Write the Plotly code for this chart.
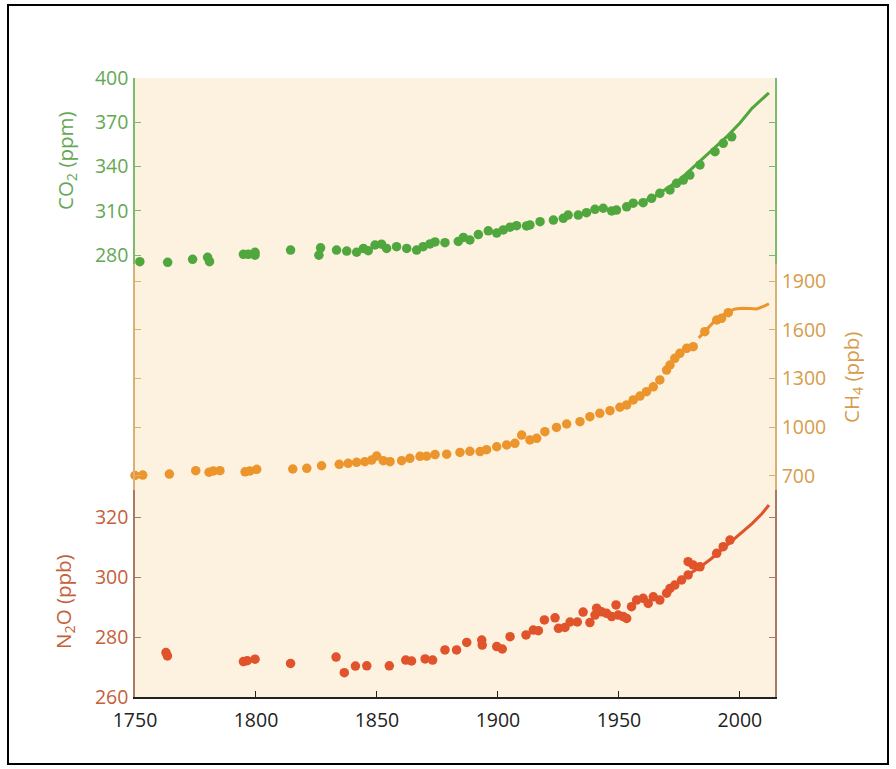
import plotly.graph_objects as go

# ---------------- data ----------------
co2_years = [1752, 1763.5, 1773.8, 1780, 1780.8, 1794.8, 1796.8, 1799.6, 1799.6, 1814.3,
             1826.7, 1826.0, 1833.3, 1837.5, 1841.6, 1844.4, 1846.4, 1849.2, 1851.9, 1854,
             1858.1, 1862.3, 1866.4, 1869.1, 1871.9, 1874, 1878.1, 1883.6, 1885.7, 1888.4,
             1891.9, 1896, 1899.5, 1902.2, 1905, 1907.7, 1911.8, 1913.2, 1917.4, 1922.9,
             1927, 1929, 1933.2, 1936.6, 1940.1, 1943.5, 1947, 1949, 1953.2, 1955.9,
             1960, 1963.5, 1966.9, 1971.1, 1973.8, 1976.6, 1979.3, 1983.5, 1989.7, 1993.1,
             1996.6]
co2_values = [275.6, 275.2, 277.2, 278.6, 275.6, 280.6, 280.6, 282.0, 280.0, 283.5,
              285.0, 280.0, 283.5, 282.8, 282.0, 284.6, 283.1, 286.9, 287.5, 284.6,
              285.8, 284.6, 283.5, 285.8, 287.6, 289.0, 288.5, 289.3, 292.0, 290.3,
              294.0, 296.5, 295.0, 297.1, 299.0, 300.0, 299.8, 300.5, 302.7, 303.8,
              305.0, 307.2, 307.2, 308.8, 311.1, 311.8, 310.0, 310.6, 312.8, 315.2,
              315.6, 318.5, 321.9, 324.2, 328.7, 330.9, 334.3, 341.1, 350.1, 355.8,
              360.2]
co2_line_years = [1958, 1965, 1970, 1975, 1980, 1985, 1990, 1995, 2000, 2005, 2012]
co2_line_values = [315, 320, 325.5, 331, 338.5, 346, 354, 361, 369.5, 379.5, 390]

ch4_years = [1750, 1753.2, 1764.2, 1775.1, 1780.6, 1782.4, 1785.1, 1795.5, 1797.5, 1800.3,
             1815.2, 1821, 1827.1, 1834.4, 1838.1, 1841.6, 1845, 1847.8, 1849.9, 1852.6,
             1855.4, 1860.2, 1863.6, 1867.8, 1870.5, 1874, 1878.8, 1884.3, 1888.4, 1892.6,
             1895.3, 1899.5, 1903.6, 1907, 1909.8, 1913.2, 1916, 1919.4, 1924.2, 1928.4,
             1933.9, 1938, 1942.1, 1946.3, 1950.4, 1953.2, 1955.9, 1958.7, 1961.4, 1964.2,
             1966.9, 1969.7, 1971.1, 1973.1, 1975.2, 1978, 1980.7, 1985.5, 1990.4, 1992.4,
             1995.2]
ch4_values = [703, 706, 712, 733, 723, 731, 733, 726, 731, 741,
              743, 747, 763, 772, 778, 784, 788, 798, 823, 794,
              788, 794, 809, 821, 822, 832, 834, 845, 852, 850,
              862, 880, 891, 901, 952, 922, 932, 973, 999, 1020,
              1034, 1065, 1086, 1102, 1123, 1137, 1168, 1192, 1219, 1249,
              1291, 1352, 1383, 1424, 1455, 1486, 1496, 1588, 1660, 1670,
              1705]
ch4_line_years = [1983, 1986, 1989, 1992, 1995, 1998, 2001, 2004, 2007, 2010, 2012]
ch4_line_values = [1550, 1600, 1645, 1680, 1710, 1728, 1732, 1730, 1728, 1745, 1760]

n2o_years = [1762.8, 1763.4, 1794.8, 1796.4, 1799.6, 1814.3, 1833.1, 1836.5, 1841.1, 1845.8,
             1855.1, 1861.9, 1864.3, 1869.9, 1873, 1878.1, 1882.9, 1887.1, 1893.3, 1893.5,
             1899.5, 1901.8, 1905, 1911.6, 1914.6, 1916.7, 1919.2, 1923.6, 1925, 1927.7,
             1929.8, 1932.8, 1935.2, 1938, 1940.1, 1940.8, 1942.8, 1944.9, 1947, 1948.8,
             1949.7, 1951.8, 1953.2, 1955.2, 1957.3, 1960, 1962.1, 1964.2, 1966.9, 1969.7,
             1971.1, 1973.1, 1975.9, 1978.6, 1978.6, 1980.7, 1983.5, 1990.4, 1993.1, 1995.9]
n2o_values = [274.8, 273.7, 271.8, 272.1, 272.6, 271.2, 273.3, 268.1, 270.3, 270.4,
              270.4, 272.3, 272.0, 272.7, 272.3, 275.7, 275.7, 278.2, 279.0, 277.3,
              276.8, 276.0, 280.1, 280.7, 282.3, 282.1, 285.7, 286.4, 282.9, 283.2,
              285.0, 285.0, 288.3, 284.8, 287.3, 289.6, 288.4, 287.9, 286.8, 290.7,
              287.3, 286.8, 286.2, 290.1, 292.3, 292.9, 291.2, 293.4, 292.3, 294.6,
              296.2, 297.3, 299.0, 300.7, 305.1, 304.0, 303.4, 307.9, 310.1, 312.3]
n2o_line_years = [1978, 1983, 1988, 1993, 1997, 2000, 2005, 2009, 2012]
n2o_line_values = [300.5, 303, 306, 309.5, 312.3, 314.2, 317.8, 321, 324]

x_ticks = [1750, 1800, 1850, 1900, 1950, 2000]
co2_ticks = [280, 310, 340, 370, 400]
ch4_ticks = [700, 1000, 1300, 1600, 1900]
n2o_ticks = [260, 280, 300, 320]

# ---------------- styles ----------------
GREEN = "#4fa73e"
GREEN_TXT = "#64a853"
GREEN_LINE = "#7dbb6c"
ORANGE = "#ec952c"
ORANGE_TXT = "#d69c4a"
ORANGE_LINE = "#d9b273"
RED = "#e0532b"
RED_TXT = "#c5603b"
RED_LINE = "#a87a62"
BG = "#fdf2df"
FONT = "Open Sans"
TS = 19.5

fig = go.Figure()
mk = 9.5
fig.add_trace(go.Scatter(x=co2_line_years, y=co2_line_values, mode="lines",
                         line=dict(color=GREEN, width=3), xaxis="x", yaxis="y"))
fig.add_trace(go.Scatter(x=co2_years, y=co2_values, mode="markers", cliponaxis=False,
                         marker=dict(color=GREEN, size=mk), xaxis="x", yaxis="y"))
fig.add_trace(go.Scatter(x=ch4_line_years, y=ch4_line_values, mode="lines",
                         line=dict(color=ORANGE, width=3), xaxis="x", yaxis="y2"))
fig.add_trace(go.Scatter(x=ch4_years, y=ch4_values, mode="markers", cliponaxis=False,
                         marker=dict(color=ORANGE, size=mk), xaxis="x", yaxis="y2"))
fig.add_trace(go.Scatter(x=n2o_line_years, y=n2o_line_values, mode="lines",
                         line=dict(color=RED, width=3), xaxis="x", yaxis="y3"))
fig.add_trace(go.Scatter(x=n2o_years, y=n2o_values, mode="markers", cliponaxis=False,
                         marker=dict(color=RED, size=mk), xaxis="x", yaxis="y3"))

W, H = 896, 769
L, R, T, B = 135, 121, 78, 72
ph = H - T - B
def py(pix):
    return (H - B - pix) / ph
def px(pix):
    return (pix - L) / (W - L - R)

d1 = py(264)
d2 = py(490)

common_y = dict(showgrid=False, zeroline=False, ticks="inside", ticklen=6, tickwidth=1.3,
                showline=True, linewidth=1.5, mirror="ticks", anchor="x",
                ticklabelstandoff=1)

fig.update_layout(
    width=W, height=H,
    margin=dict(l=L, r=R, t=T, b=B, pad=0),
    paper_bgcolor="white", plot_bgcolor=BG,
    showlegend=False,
    font=dict(family=FONT, size=TS),
    xaxis=dict(range=[1750, 2014.5], tickvals=x_ticks, ticks="inside", ticklen=6,
               tickwidth=1.3, tickcolor="#222", showline=True, linecolor="#222", linewidth=1.5,
               showgrid=False, zeroline=False, anchor="y3", ticklabelstandoff=5,
               tickfont=dict(color="#222", size=TS, family=FONT)),
    xaxis2=dict(range=[1750, 2014.5], tickvals=x_ticks, ticks="inside", ticklen=6,
                tickwidth=1.3, tickcolor="#222", showline=True, linecolor="#222", linewidth=1.5,
                showgrid=False, zeroline=False, overlaying="x", anchor="y", side="top",
                showticklabels=False),
    yaxis=dict(domain=[d1, 1], range=[400 - (264 - 78) / 1.4767, 400], tickvals=co2_ticks,
               side="left", linecolor=GREEN_LINE, tickcolor=GREEN_LINE,
               tickfont=dict(color=GREEN_TXT, size=TS, family=FONT), **common_y),
    yaxis2=dict(domain=[d2, d1], range=[613.8, 1900 + (281 - 264) / 0.1625], tickvals=ch4_ticks,
                side="right", linecolor=ORANGE_LINE, tickcolor=ORANGE_LINE,
                tickfont=dict(color=ORANGE_TXT, size=TS, family=FONT), **common_y),
    yaxis3=dict(domain=[0, d2], range=[260, 329], tickvals=n2o_ticks, side="left",
                linecolor=RED_LINE, tickcolor=RED_LINE,
                tickfont=dict(color=RED_TXT, size=TS, family=FONT), **common_y),
)

fig.add_annotation(text="CO<sub>2</sub> (ppm)", textangle=-90, xref="paper", yref="paper",
                   x=px(66), y=py(161), xanchor="center", yanchor="middle", showarrow=False,
                   font=dict(color=GREEN_TXT, size=20.5, family=FONT))
fig.add_annotation(text="N<sub>2</sub>O (ppb)", textangle=-90, xref="paper", yref="paper",
                   x=px(64), y=py(602), xanchor="center", yanchor="middle", showarrow=False,
                   font=dict(color=RED_TXT, size=20.5, family=FONT))
fig.add_annotation(text="CH<sub>4</sub> (ppb)", textangle=-90, xref="paper", yref="paper",
                   x=px(852), y=py(378), xanchor="center", yanchor="middle", showarrow=False,
                   font=dict(color=ORANGE_TXT, size=20.5, family=FONT))

# outer frame
fig.add_shape(type="rect", xref="paper", yref="paper",
              x0=px(8), x1=px(888), y0=py(764), y1=py(5),
              line=dict(color="black", width=2), fillcolor="rgba(0,0,0,0)", layer="below")

fig.write_html("out.html", config={"displayModeBar": False},
               post_script="document.body.style.margin='0';document.body.style.overflow='hidden';")
